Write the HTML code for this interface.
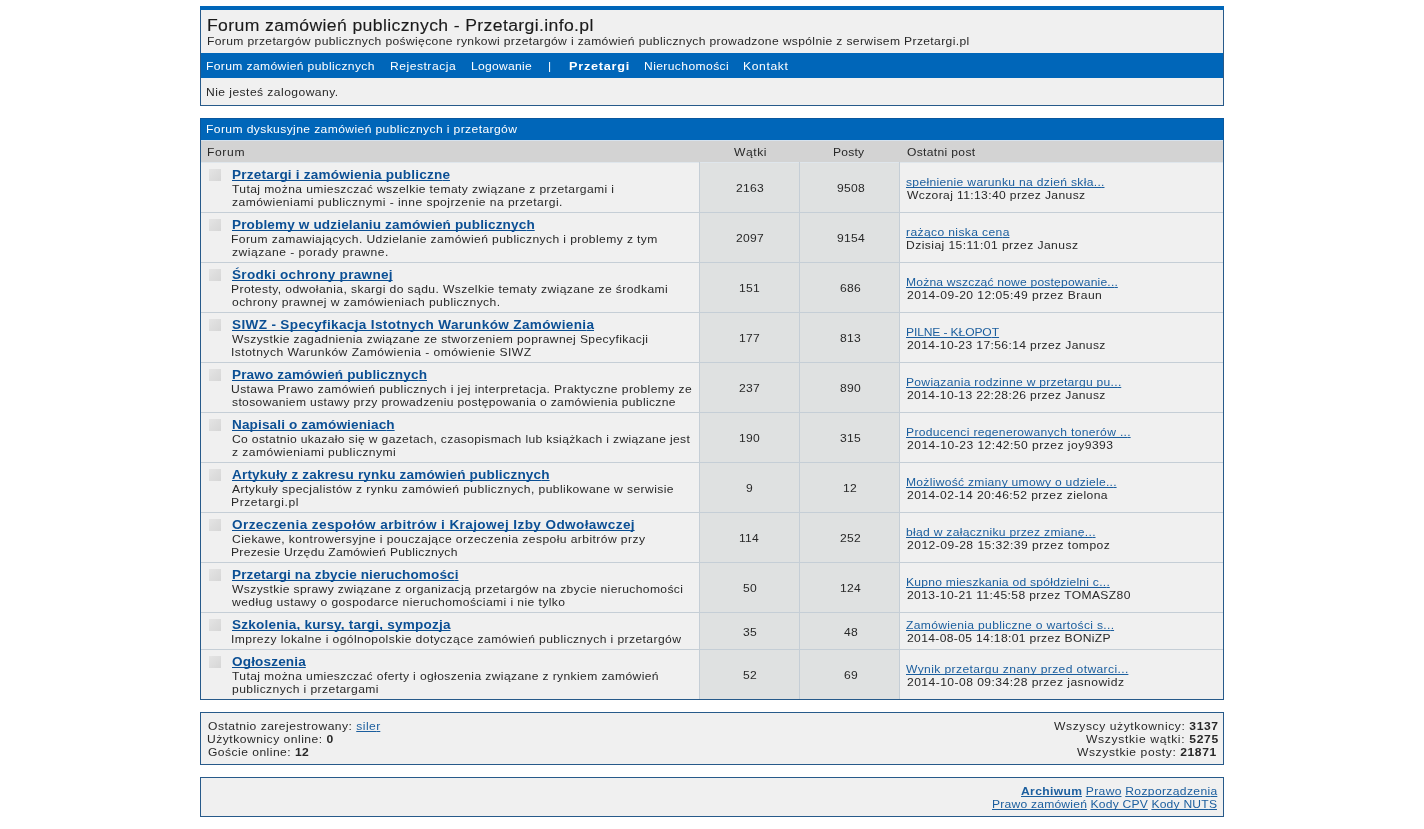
<!DOCTYPE html>
<html><head><meta charset="utf-8">
<style>
*{margin:0;padding:0}
html,body{width:1424px;height:829px;background:#fff;overflow:hidden}
body{position:relative;font-family:"Liberation Sans",sans-serif}
.r{position:absolute}
.t{position:absolute;white-space:nowrap;will-change:transform;text-decoration-skip-ink:none}
.t *{text-decoration-skip-ink:none}
b{font-weight:bold}
</style></head><body>
<div class="r" style="left:200px;top:6px;width:1024px;height:100px;background:#275a8a;"></div>
<div class="r" style="left:200px;top:6px;width:1024px;height:4px;background:#0066b9;"></div>
<div class="r" style="left:201px;top:10px;width:1022px;height:95px;background:#f0f0f0;"></div>
<div class="r" style="left:201px;top:53px;width:1022px;height:25px;background:#0066b9;"></div>
<div class="r" style="left:200px;top:118px;width:1024px;height:582px;background:#275a8a;"></div>
<div class="r" style="left:200px;top:118px;width:1024px;height:22px;background:#0a589f;"></div>
<div class="r" style="left:201px;top:119px;width:1022px;height:21px;background:#0066b9;"></div>
<div class="r" style="left:201px;top:140px;width:1022px;height:1px;background:#d6e2ee;"></div>
<div class="r" style="left:201px;top:141px;width:1022px;height:21px;background:#d3d3d3;"></div>
<div class="r" style="left:201px;top:162px;width:1022px;height:1px;background:#dfe6ec;"></div>
<div class="r" style="left:201px;top:163px;width:1022px;height:49px;background:#f0f0f0;"></div>
<div class="r" style="left:699px;top:162px;width:1px;height:50px;background:#c5ced6;"></div>
<div class="r" style="left:700px;top:163px;width:99px;height:49px;background:#dfe1e1;"></div>
<div class="r" style="left:799px;top:162px;width:1px;height:50px;background:#c5ced6;"></div>
<div class="r" style="left:800px;top:163px;width:99px;height:49px;background:#dfe1e1;"></div>
<div class="r" style="left:899px;top:162px;width:1px;height:50px;background:#c5ced6;"></div>
<div class="r" style="left:209px;top:169px;width:12px;height:12px;background:linear-gradient(135deg,#e4e4e4,#d6d6d6);"></div>
<div class="r" style="left:201px;top:212px;width:1022px;height:1px;background:#c5ced6;"></div>
<div class="r" style="left:201px;top:213px;width:1022px;height:49px;background:#f0f0f0;"></div>
<div class="r" style="left:699px;top:212px;width:1px;height:50px;background:#c5ced6;"></div>
<div class="r" style="left:700px;top:213px;width:99px;height:49px;background:#dfe1e1;"></div>
<div class="r" style="left:799px;top:212px;width:1px;height:50px;background:#c5ced6;"></div>
<div class="r" style="left:800px;top:213px;width:99px;height:49px;background:#dfe1e1;"></div>
<div class="r" style="left:899px;top:212px;width:1px;height:50px;background:#c5ced6;"></div>
<div class="r" style="left:209px;top:219px;width:12px;height:12px;background:linear-gradient(135deg,#e4e4e4,#d6d6d6);"></div>
<div class="r" style="left:201px;top:262px;width:1022px;height:1px;background:#c5ced6;"></div>
<div class="r" style="left:201px;top:263px;width:1022px;height:49px;background:#f0f0f0;"></div>
<div class="r" style="left:699px;top:262px;width:1px;height:50px;background:#c5ced6;"></div>
<div class="r" style="left:700px;top:263px;width:99px;height:49px;background:#dfe1e1;"></div>
<div class="r" style="left:799px;top:262px;width:1px;height:50px;background:#c5ced6;"></div>
<div class="r" style="left:800px;top:263px;width:99px;height:49px;background:#dfe1e1;"></div>
<div class="r" style="left:899px;top:262px;width:1px;height:50px;background:#c5ced6;"></div>
<div class="r" style="left:209px;top:269px;width:12px;height:12px;background:linear-gradient(135deg,#e4e4e4,#d6d6d6);"></div>
<div class="r" style="left:201px;top:312px;width:1022px;height:1px;background:#c5ced6;"></div>
<div class="r" style="left:201px;top:313px;width:1022px;height:49px;background:#f0f0f0;"></div>
<div class="r" style="left:699px;top:312px;width:1px;height:50px;background:#c5ced6;"></div>
<div class="r" style="left:700px;top:313px;width:99px;height:49px;background:#dfe1e1;"></div>
<div class="r" style="left:799px;top:312px;width:1px;height:50px;background:#c5ced6;"></div>
<div class="r" style="left:800px;top:313px;width:99px;height:49px;background:#dfe1e1;"></div>
<div class="r" style="left:899px;top:312px;width:1px;height:50px;background:#c5ced6;"></div>
<div class="r" style="left:209px;top:319px;width:12px;height:12px;background:linear-gradient(135deg,#e4e4e4,#d6d6d6);"></div>
<div class="r" style="left:201px;top:362px;width:1022px;height:1px;background:#c5ced6;"></div>
<div class="r" style="left:201px;top:363px;width:1022px;height:49px;background:#f0f0f0;"></div>
<div class="r" style="left:699px;top:362px;width:1px;height:50px;background:#c5ced6;"></div>
<div class="r" style="left:700px;top:363px;width:99px;height:49px;background:#dfe1e1;"></div>
<div class="r" style="left:799px;top:362px;width:1px;height:50px;background:#c5ced6;"></div>
<div class="r" style="left:800px;top:363px;width:99px;height:49px;background:#dfe1e1;"></div>
<div class="r" style="left:899px;top:362px;width:1px;height:50px;background:#c5ced6;"></div>
<div class="r" style="left:209px;top:369px;width:12px;height:12px;background:linear-gradient(135deg,#e4e4e4,#d6d6d6);"></div>
<div class="r" style="left:201px;top:412px;width:1022px;height:1px;background:#c5ced6;"></div>
<div class="r" style="left:201px;top:413px;width:1022px;height:49px;background:#f0f0f0;"></div>
<div class="r" style="left:699px;top:412px;width:1px;height:50px;background:#c5ced6;"></div>
<div class="r" style="left:700px;top:413px;width:99px;height:49px;background:#dfe1e1;"></div>
<div class="r" style="left:799px;top:412px;width:1px;height:50px;background:#c5ced6;"></div>
<div class="r" style="left:800px;top:413px;width:99px;height:49px;background:#dfe1e1;"></div>
<div class="r" style="left:899px;top:412px;width:1px;height:50px;background:#c5ced6;"></div>
<div class="r" style="left:209px;top:419px;width:12px;height:12px;background:linear-gradient(135deg,#e4e4e4,#d6d6d6);"></div>
<div class="r" style="left:201px;top:462px;width:1022px;height:1px;background:#c5ced6;"></div>
<div class="r" style="left:201px;top:463px;width:1022px;height:49px;background:#f0f0f0;"></div>
<div class="r" style="left:699px;top:462px;width:1px;height:50px;background:#c5ced6;"></div>
<div class="r" style="left:700px;top:463px;width:99px;height:49px;background:#dfe1e1;"></div>
<div class="r" style="left:799px;top:462px;width:1px;height:50px;background:#c5ced6;"></div>
<div class="r" style="left:800px;top:463px;width:99px;height:49px;background:#dfe1e1;"></div>
<div class="r" style="left:899px;top:462px;width:1px;height:50px;background:#c5ced6;"></div>
<div class="r" style="left:209px;top:469px;width:12px;height:12px;background:linear-gradient(135deg,#e4e4e4,#d6d6d6);"></div>
<div class="r" style="left:201px;top:512px;width:1022px;height:1px;background:#c5ced6;"></div>
<div class="r" style="left:201px;top:513px;width:1022px;height:49px;background:#f0f0f0;"></div>
<div class="r" style="left:699px;top:512px;width:1px;height:50px;background:#c5ced6;"></div>
<div class="r" style="left:700px;top:513px;width:99px;height:49px;background:#dfe1e1;"></div>
<div class="r" style="left:799px;top:512px;width:1px;height:50px;background:#c5ced6;"></div>
<div class="r" style="left:800px;top:513px;width:99px;height:49px;background:#dfe1e1;"></div>
<div class="r" style="left:899px;top:512px;width:1px;height:50px;background:#c5ced6;"></div>
<div class="r" style="left:209px;top:519px;width:12px;height:12px;background:linear-gradient(135deg,#e4e4e4,#d6d6d6);"></div>
<div class="r" style="left:201px;top:562px;width:1022px;height:1px;background:#c5ced6;"></div>
<div class="r" style="left:201px;top:563px;width:1022px;height:49px;background:#f0f0f0;"></div>
<div class="r" style="left:699px;top:562px;width:1px;height:50px;background:#c5ced6;"></div>
<div class="r" style="left:700px;top:563px;width:99px;height:49px;background:#dfe1e1;"></div>
<div class="r" style="left:799px;top:562px;width:1px;height:50px;background:#c5ced6;"></div>
<div class="r" style="left:800px;top:563px;width:99px;height:49px;background:#dfe1e1;"></div>
<div class="r" style="left:899px;top:562px;width:1px;height:50px;background:#c5ced6;"></div>
<div class="r" style="left:209px;top:569px;width:12px;height:12px;background:linear-gradient(135deg,#e4e4e4,#d6d6d6);"></div>
<div class="r" style="left:201px;top:612px;width:1022px;height:1px;background:#c5ced6;"></div>
<div class="r" style="left:201px;top:613px;width:1022px;height:36px;background:#f0f0f0;"></div>
<div class="r" style="left:699px;top:612px;width:1px;height:37px;background:#c5ced6;"></div>
<div class="r" style="left:700px;top:613px;width:99px;height:36px;background:#dfe1e1;"></div>
<div class="r" style="left:799px;top:612px;width:1px;height:37px;background:#c5ced6;"></div>
<div class="r" style="left:800px;top:613px;width:99px;height:36px;background:#dfe1e1;"></div>
<div class="r" style="left:899px;top:612px;width:1px;height:37px;background:#c5ced6;"></div>
<div class="r" style="left:209px;top:619px;width:12px;height:12px;background:linear-gradient(135deg,#e4e4e4,#d6d6d6);"></div>
<div class="r" style="left:201px;top:649px;width:1022px;height:1px;background:#c5ced6;"></div>
<div class="r" style="left:201px;top:650px;width:1022px;height:49px;background:#f0f0f0;"></div>
<div class="r" style="left:699px;top:649px;width:1px;height:50px;background:#c5ced6;"></div>
<div class="r" style="left:700px;top:650px;width:99px;height:49px;background:#dfe1e1;"></div>
<div class="r" style="left:799px;top:649px;width:1px;height:50px;background:#c5ced6;"></div>
<div class="r" style="left:800px;top:650px;width:99px;height:49px;background:#dfe1e1;"></div>
<div class="r" style="left:899px;top:649px;width:1px;height:50px;background:#c5ced6;"></div>
<div class="r" style="left:209px;top:656px;width:12px;height:12px;background:linear-gradient(135deg,#e4e4e4,#d6d6d6);"></div>
<div class="r" style="left:200px;top:712px;width:1024px;height:53px;background:#275a8a;"></div>
<div class="r" style="left:201px;top:713px;width:1022px;height:51px;background:#f0f0f0;"></div>
<div class="r" style="left:200px;top:777px;width:1024px;height:40px;background:#275a8a;"></div>
<div class="r" style="left:201px;top:778px;width:1022px;height:38px;background:#f0f0f0;"></div>
<div class="t" style="left:206.9px;top:17px;font-size:16px;line-height:18px;font-weight:normal;color:#1a1a1a;letter-spacing:0.337px;-webkit-text-stroke:0.12px #1a1a1a;transform:scaleX(1.1);transform-origin:0 0;">Forum zamówień publicznych - Przetargi.info.pl</div>
<div class="t" style="left:206.9px;top:35px;font-size:11px;line-height:13px;font-weight:normal;color:#282828;letter-spacing:0.322px;transform:scaleX(1.1);transform-origin:0 0;">Forum przetargów publicznych poświęcone rynkowi przetargów i zamówień publicznych prowadzone wspólnie z serwisem Przetargi.pl</div>
<div class="t" style="left:205.9px;top:60px;font-size:11px;line-height:13px;font-weight:normal;color:#fff;letter-spacing:0.331px;transform:scaleX(1.1);transform-origin:0 0;">Forum zamówień publicznych</div>
<div class="t" style="left:389.5px;top:60px;font-size:11px;line-height:13px;font-weight:normal;color:#fff;letter-spacing:0.464px;transform:scaleX(1.1);transform-origin:0 0;">Rejestracja</div>
<div class="t" style="left:470.5px;top:60px;font-size:11px;line-height:13px;font-weight:normal;color:#fff;letter-spacing:0.250px;transform:scaleX(1.1);transform-origin:0 0;">Logowanie</div>
<div class="t" style="left:547.9px;top:60px;font-size:11px;line-height:13px;font-weight:normal;color:#fff;letter-spacing:0.773px;transform:scaleX(1.1);transform-origin:0 0;">|</div>
<div class="t" style="left:568.5px;top:60px;font-size:11px;line-height:13px;font-weight:bold;color:#fff;letter-spacing:0.663px;transform:scaleX(1.15);transform-origin:0 0;">Przetargi</div>
<div class="t" style="left:643.5px;top:60px;font-size:11px;line-height:13px;font-weight:normal;color:#fff;letter-spacing:0.356px;transform:scaleX(1.1);transform-origin:0 0;">Nieruchomości</div>
<div class="t" style="left:742.5px;top:60px;font-size:11px;line-height:13px;font-weight:normal;color:#fff;letter-spacing:0.591px;transform:scaleX(1.1);transform-origin:0 0;">Kontakt</div>
<div class="t" style="left:205.9px;top:86px;font-size:11px;line-height:13px;font-weight:normal;color:#282828;letter-spacing:0.403px;transform:scaleX(1.1);transform-origin:0 0;">Nie jesteś zalogowany.</div>
<div class="t" style="left:205.6px;top:123px;font-size:11px;line-height:13px;font-weight:normal;color:#fff;letter-spacing:0.354px;transform:scaleX(1.1);transform-origin:0 0;">Forum dyskusyjne zamówień publicznych i przetargów</div>
<div class="t" style="left:206.6px;top:146px;font-size:11px;line-height:13px;font-weight:normal;color:#282828;letter-spacing:0.568px;transform:scaleX(1.1);transform-origin:0 0;">Forum</div>
<div class="t" style="left:733.9px;top:146px;font-size:11px;line-height:13px;font-weight:normal;color:#282828;letter-spacing:0.500px;transform:scaleX(1.1);transform-origin:0 0;">Wątki</div>
<div class="t" style="left:833.3px;top:146px;font-size:11px;line-height:13px;font-weight:normal;color:#282828;letter-spacing:0.182px;transform:scaleX(1.1);transform-origin:0 0;">Posty</div>
<div class="t" style="left:906.5px;top:146px;font-size:11px;line-height:13px;font-weight:normal;color:#282828;letter-spacing:0.298px;transform:scaleX(1.1);transform-origin:0 0;">Ostatni post</div>
<div class="t" style="left:232.0px;top:168px;font-size:12px;line-height:15px;font-weight:bold;color:#0b4f94;letter-spacing:0.177px;text-decoration:underline;transform:scaleX(1.13);transform-origin:0 0;">Przetargi i zamówienia publiczn<span style="letter-spacing:0">e</span></div>
<div class="t" style="left:232.0px;top:183px;font-size:11px;line-height:13px;font-weight:normal;color:#282828;letter-spacing:0.353px;transform:scaleX(1.1);transform-origin:0 0;">Tutaj można umieszczać wszelkie tematy związane z przetargami i</div>
<div class="t" style="left:232.0px;top:196px;font-size:11px;line-height:13px;font-weight:normal;color:#282828;letter-spacing:0.403px;transform:scaleX(1.1);transform-origin:0 0;">zamówieniami publicznymi - inne spojrzenie na przetargi.</div>
<div class="t" style="left:735.9px;top:182px;font-size:11px;line-height:13px;font-weight:normal;color:#282828;letter-spacing:0.247px;transform:scaleX(1.1);transform-origin:0 0;">2163</div>
<div class="t" style="left:836.7px;top:182px;font-size:11px;line-height:13px;font-weight:normal;color:#282828;letter-spacing:0.247px;transform:scaleX(1.1);transform-origin:0 0;">9508</div>
<div class="t" style="left:906.0px;top:176px;font-size:11px;line-height:13px;font-weight:normal;color:#1b5e9e;letter-spacing:0.289px;text-decoration:underline;transform:scaleX(1.1);transform-origin:0 0;">spełnienie warunku na dzień skła..<span style="letter-spacing:0">.</span></div>
<div class="t" style="left:907.0px;top:189px;font-size:11px;line-height:13px;font-weight:normal;color:#282828;letter-spacing:0.331px;transform:scaleX(1.1);transform-origin:0 0;">Wczoraj 11:13:40 przez Janusz</div>
<div class="t" style="left:232.0px;top:218px;font-size:12px;line-height:15px;font-weight:bold;color:#0b4f94;letter-spacing:0.126px;text-decoration:underline;transform:scaleX(1.13);transform-origin:0 0;">Problemy w udzielaniu zamówień publicznyc<span style="letter-spacing:0">h</span></div>
<div class="t" style="left:230.9px;top:233px;font-size:11px;line-height:13px;font-weight:normal;color:#282828;letter-spacing:0.360px;transform:scaleX(1.1);transform-origin:0 0;">Forum zamawiających. Udzielanie zamówień publicznych i problemy z tym</div>
<div class="t" style="left:232.0px;top:246px;font-size:11px;line-height:13px;font-weight:normal;color:#282828;letter-spacing:0.447px;transform:scaleX(1.1);transform-origin:0 0;">związane - porady prawne.</div>
<div class="t" style="left:735.9px;top:232px;font-size:11px;line-height:13px;font-weight:normal;color:#282828;letter-spacing:0.247px;transform:scaleX(1.1);transform-origin:0 0;">2097</div>
<div class="t" style="left:836.7px;top:232px;font-size:11px;line-height:13px;font-weight:normal;color:#282828;letter-spacing:0.247px;transform:scaleX(1.1);transform-origin:0 0;">9154</div>
<div class="t" style="left:906.0px;top:226px;font-size:11px;line-height:13px;font-weight:normal;color:#1b5e9e;letter-spacing:0.335px;text-decoration:underline;transform:scaleX(1.1);transform-origin:0 0;">rażąco niska cen<span style="letter-spacing:0">a</span></div>
<div class="t" style="left:905.9px;top:239px;font-size:11px;line-height:13px;font-weight:normal;color:#282828;letter-spacing:0.393px;transform:scaleX(1.1);transform-origin:0 0;">Dzisiaj 15:11:01 przez Janusz</div>
<div class="t" style="left:232.0px;top:268px;font-size:12px;line-height:15px;font-weight:bold;color:#0b4f94;letter-spacing:0.259px;text-decoration:underline;transform:scaleX(1.13);transform-origin:0 0;">Środki ochrony prawne<span style="letter-spacing:0">j</span></div>
<div class="t" style="left:230.9px;top:283px;font-size:11px;line-height:13px;font-weight:normal;color:#282828;letter-spacing:0.372px;transform:scaleX(1.1);transform-origin:0 0;">Protesty, odwołania, skargi do sądu. Wszelkie tematy związane ze środkami</div>
<div class="t" style="left:232.0px;top:296px;font-size:11px;line-height:13px;font-weight:normal;color:#282828;letter-spacing:0.372px;transform:scaleX(1.1);transform-origin:0 0;">ochrony prawnej w zamówieniach publicznych.</div>
<div class="t" style="left:738.8px;top:282px;font-size:11px;line-height:13px;font-weight:normal;color:#282828;letter-spacing:0.247px;transform:scaleX(1.1);transform-origin:0 0;">151</div>
<div class="t" style="left:840.2px;top:282px;font-size:11px;line-height:13px;font-weight:normal;color:#282828;letter-spacing:0.247px;transform:scaleX(1.1);transform-origin:0 0;">686</div>
<div class="t" style="left:906.0px;top:276px;font-size:11px;line-height:13px;font-weight:normal;color:#1b5e9e;letter-spacing:0.165px;text-decoration:underline;transform:scaleX(1.1);transform-origin:0 0;">Można wszcząć nowe postępowanie..<span style="letter-spacing:0">.</span></div>
<div class="t" style="left:907.0px;top:289px;font-size:11px;line-height:13px;font-weight:normal;color:#282828;letter-spacing:0.421px;transform:scaleX(1.1);transform-origin:0 0;">2014-09-20 12:05:49 przez Braun</div>
<div class="t" style="left:232.0px;top:318px;font-size:12px;line-height:15px;font-weight:bold;color:#0b4f94;letter-spacing:0.307px;text-decoration:underline;transform:scaleX(1.13);transform-origin:0 0;">SIWZ - Specyfikacja Istotnych Warunków Zamówieni<span style="letter-spacing:0">a</span></div>
<div class="t" style="left:232.0px;top:333px;font-size:11px;line-height:13px;font-weight:normal;color:#282828;letter-spacing:0.342px;transform:scaleX(1.1);transform-origin:0 0;">Wszystkie zagadnienia związane ze stworzeniem poprawnej Specyfikacji</div>
<div class="t" style="left:230.9px;top:346px;font-size:11px;line-height:13px;font-weight:normal;color:#282828;letter-spacing:0.420px;transform:scaleX(1.1);transform-origin:0 0;">Istotnych Warunków Zamówienia - omówienie SIWZ</div>
<div class="t" style="left:738.8px;top:332px;font-size:11px;line-height:13px;font-weight:normal;color:#282828;letter-spacing:0.247px;transform:scaleX(1.1);transform-origin:0 0;">177</div>
<div class="t" style="left:840.2px;top:332px;font-size:11px;line-height:13px;font-weight:normal;color:#282828;letter-spacing:0.247px;transform:scaleX(1.1);transform-origin:0 0;">813</div>
<div class="t" style="left:906.0px;top:326px;font-size:11px;line-height:13px;font-weight:normal;color:#1b5e9e;letter-spacing:-0.126px;text-decoration:underline;transform:scaleX(1.1);transform-origin:0 0;">PILNE - KŁOPO<span style="letter-spacing:0">T</span></div>
<div class="t" style="left:907.0px;top:339px;font-size:11px;line-height:13px;font-weight:normal;color:#282828;letter-spacing:0.334px;transform:scaleX(1.1);transform-origin:0 0;">2014-10-23 17:56:14 przez Janusz</div>
<div class="t" style="left:232.0px;top:368px;font-size:12px;line-height:15px;font-weight:bold;color:#0b4f94;letter-spacing:0.125px;text-decoration:underline;transform:scaleX(1.13);transform-origin:0 0;">Prawo zamówień publicznyc<span style="letter-spacing:0">h</span></div>
<div class="t" style="left:230.9px;top:383px;font-size:11px;line-height:13px;font-weight:normal;color:#282828;letter-spacing:0.371px;transform:scaleX(1.1);transform-origin:0 0;">Ustawa Prawo zamówień publicznych i jej interpretacja. Praktyczne problemy ze</div>
<div class="t" style="left:232.0px;top:396px;font-size:11px;line-height:13px;font-weight:normal;color:#282828;letter-spacing:0.310px;transform:scaleX(1.1);transform-origin:0 0;">stosowaniem ustawy przy prowadzeniu postępowania o zamówienia publiczne</div>
<div class="t" style="left:739.4px;top:382px;font-size:11px;line-height:13px;font-weight:normal;color:#282828;letter-spacing:0.247px;transform:scaleX(1.1);transform-origin:0 0;">237</div>
<div class="t" style="left:840.2px;top:382px;font-size:11px;line-height:13px;font-weight:normal;color:#282828;letter-spacing:0.247px;transform:scaleX(1.1);transform-origin:0 0;">890</div>
<div class="t" style="left:906.0px;top:376px;font-size:11px;line-height:13px;font-weight:normal;color:#1b5e9e;letter-spacing:0.255px;text-decoration:underline;transform:scaleX(1.1);transform-origin:0 0;">Powiązania rodzinne w przetargu pu..<span style="letter-spacing:0">.</span></div>
<div class="t" style="left:907.0px;top:389px;font-size:11px;line-height:13px;font-weight:normal;color:#282828;letter-spacing:0.334px;transform:scaleX(1.1);transform-origin:0 0;">2014-10-13 22:28:26 przez Janusz</div>
<div class="t" style="left:232.0px;top:418px;font-size:12px;line-height:15px;font-weight:bold;color:#0b4f94;letter-spacing:0.115px;text-decoration:underline;transform:scaleX(1.13);transform-origin:0 0;">Napisali o zamówieniac<span style="letter-spacing:0">h</span></div>
<div class="t" style="left:232.0px;top:433px;font-size:11px;line-height:13px;font-weight:normal;color:#282828;letter-spacing:0.315px;transform:scaleX(1.1);transform-origin:0 0;">Co ostatnio ukazało się w gazetach, czasopismach lub książkach i związane jest</div>
<div class="t" style="left:232.0px;top:446px;font-size:11px;line-height:13px;font-weight:normal;color:#282828;letter-spacing:0.404px;transform:scaleX(1.1);transform-origin:0 0;">z zamówieniami publicznymi</div>
<div class="t" style="left:738.8px;top:432px;font-size:11px;line-height:13px;font-weight:normal;color:#282828;letter-spacing:0.247px;transform:scaleX(1.1);transform-origin:0 0;">190</div>
<div class="t" style="left:840.2px;top:432px;font-size:11px;line-height:13px;font-weight:normal;color:#282828;letter-spacing:0.247px;transform:scaleX(1.1);transform-origin:0 0;">315</div>
<div class="t" style="left:906.0px;top:426px;font-size:11px;line-height:13px;font-weight:normal;color:#1b5e9e;letter-spacing:0.288px;text-decoration:underline;transform:scaleX(1.1);transform-origin:0 0;">Producenci regenerowanych tonerów ..<span style="letter-spacing:0">.</span></div>
<div class="t" style="left:907.0px;top:439px;font-size:11px;line-height:13px;font-weight:normal;color:#282828;letter-spacing:0.426px;transform:scaleX(1.1);transform-origin:0 0;">2014-10-23 12:42:50 przez joy9393</div>
<div class="t" style="left:232.0px;top:468px;font-size:12px;line-height:15px;font-weight:bold;color:#0b4f94;letter-spacing:0.142px;text-decoration:underline;transform:scaleX(1.13);transform-origin:0 0;">Artykuły z zakresu rynku zamówień publicznyc<span style="letter-spacing:0">h</span></div>
<div class="t" style="left:232.0px;top:483px;font-size:11px;line-height:13px;font-weight:normal;color:#282828;letter-spacing:0.374px;transform:scaleX(1.1);transform-origin:0 0;">Artykuły specjalistów z rynku zamówień publicznych, publikowane w serwisie</div>
<div class="t" style="left:230.9px;top:496px;font-size:11px;line-height:13px;font-weight:normal;color:#282828;letter-spacing:0.521px;transform:scaleX(1.1);transform-origin:0 0;">Przetargi.pl</div>
<div class="t" style="left:746.2px;top:482px;font-size:11px;line-height:13px;font-weight:normal;color:#282828;letter-spacing:0.247px;transform:scaleX(1.1);transform-origin:0 0;">9</div>
<div class="t" style="left:843.1px;top:482px;font-size:11px;line-height:13px;font-weight:normal;color:#282828;letter-spacing:0.247px;transform:scaleX(1.1);transform-origin:0 0;">12</div>
<div class="t" style="left:906.0px;top:476px;font-size:11px;line-height:13px;font-weight:normal;color:#1b5e9e;letter-spacing:0.254px;text-decoration:underline;transform:scaleX(1.1);transform-origin:0 0;">Możliwość zmiany umowy o udziele..<span style="letter-spacing:0">.</span></div>
<div class="t" style="left:907.0px;top:489px;font-size:11px;line-height:13px;font-weight:normal;color:#282828;letter-spacing:0.386px;transform:scaleX(1.1);transform-origin:0 0;">2014-02-14 20:46:52 przez zielona</div>
<div class="t" style="left:232.0px;top:518px;font-size:12px;line-height:15px;font-weight:bold;color:#0b4f94;letter-spacing:0.355px;text-decoration:underline;transform:scaleX(1.13);transform-origin:0 0;">Orzeczenia zespołów arbitrów i Krajowej Izby Odwoławcze<span style="letter-spacing:0">j</span></div>
<div class="t" style="left:232.0px;top:533px;font-size:11px;line-height:13px;font-weight:normal;color:#282828;letter-spacing:0.378px;transform:scaleX(1.1);transform-origin:0 0;">Ciekawe, kontrowersyjne i pouczające orzeczenia zespołu arbitrów przy</div>
<div class="t" style="left:230.9px;top:546px;font-size:11px;line-height:13px;font-weight:normal;color:#282828;letter-spacing:0.255px;transform:scaleX(1.1);transform-origin:0 0;">Prezesie Urzędu Zamówień Publicznych</div>
<div class="t" style="left:738.8px;top:532px;font-size:11px;line-height:13px;font-weight:normal;color:#282828;letter-spacing:0.247px;transform:scaleX(1.1);transform-origin:0 0;">114</div>
<div class="t" style="left:840.2px;top:532px;font-size:11px;line-height:13px;font-weight:normal;color:#282828;letter-spacing:0.247px;transform:scaleX(1.1);transform-origin:0 0;">252</div>
<div class="t" style="left:906.0px;top:526px;font-size:11px;line-height:13px;font-weight:normal;color:#1b5e9e;letter-spacing:0.264px;text-decoration:underline;transform:scaleX(1.1);transform-origin:0 0;">błąd w załączniku przez zmianę..<span style="letter-spacing:0">.</span></div>
<div class="t" style="left:907.0px;top:539px;font-size:11px;line-height:13px;font-weight:normal;color:#282828;letter-spacing:0.425px;transform:scaleX(1.1);transform-origin:0 0;">2012-09-28 15:32:39 przez tompoz</div>
<div class="t" style="left:232.0px;top:568px;font-size:12px;line-height:15px;font-weight:bold;color:#0b4f94;letter-spacing:0.094px;text-decoration:underline;transform:scaleX(1.13);transform-origin:0 0;">Przetargi na zbycie nieruchomośc<span style="letter-spacing:0">i</span></div>
<div class="t" style="left:232.0px;top:583px;font-size:11px;line-height:13px;font-weight:normal;color:#282828;letter-spacing:0.340px;transform:scaleX(1.1);transform-origin:0 0;">Wszystkie sprawy związane z organizacją przetargów na zbycie nieruchomości</div>
<div class="t" style="left:232.0px;top:596px;font-size:11px;line-height:13px;font-weight:normal;color:#282828;letter-spacing:0.375px;transform:scaleX(1.1);transform-origin:0 0;">według ustawy o gospodarce nieruchomościami i nie tylko</div>
<div class="t" style="left:742.8px;top:582px;font-size:11px;line-height:13px;font-weight:normal;color:#282828;letter-spacing:0.247px;transform:scaleX(1.1);transform-origin:0 0;">50</div>
<div class="t" style="left:839.6px;top:582px;font-size:11px;line-height:13px;font-weight:normal;color:#282828;letter-spacing:0.247px;transform:scaleX(1.1);transform-origin:0 0;">124</div>
<div class="t" style="left:906.0px;top:576px;font-size:11px;line-height:13px;font-weight:normal;color:#1b5e9e;letter-spacing:0.226px;text-decoration:underline;transform:scaleX(1.1);transform-origin:0 0;">Kupno mieszkania od spółdzielni c..<span style="letter-spacing:0">.</span></div>
<div class="t" style="left:907.0px;top:589px;font-size:11px;line-height:13px;font-weight:normal;color:#282828;letter-spacing:0.336px;transform:scaleX(1.1);transform-origin:0 0;">2013-10-21 11:45:58 przez TOMASZ80</div>
<div class="t" style="left:232.0px;top:618px;font-size:12px;line-height:15px;font-weight:bold;color:#0b4f94;letter-spacing:0.193px;text-decoration:underline;transform:scaleX(1.13);transform-origin:0 0;">Szkolenia, kursy, targi, sympozj<span style="letter-spacing:0">a</span></div>
<div class="t" style="left:230.9px;top:633px;font-size:11px;line-height:13px;font-weight:normal;color:#282828;letter-spacing:0.372px;transform:scaleX(1.1);transform-origin:0 0;">Imprezy lokalne i ogólnopolskie dotyczące zamówień publicznych i przetargów</div>
<div class="t" style="left:742.8px;top:626px;font-size:11px;line-height:13px;font-weight:normal;color:#282828;letter-spacing:0.247px;transform:scaleX(1.1);transform-origin:0 0;">35</div>
<div class="t" style="left:843.6px;top:626px;font-size:11px;line-height:13px;font-weight:normal;color:#282828;letter-spacing:0.247px;transform:scaleX(1.1);transform-origin:0 0;">48</div>
<div class="t" style="left:906.0px;top:619px;font-size:11px;line-height:13px;font-weight:normal;color:#1b5e9e;letter-spacing:0.286px;text-decoration:underline;transform:scaleX(1.1);transform-origin:0 0;">Zamówienia publiczne o wartości s..<span style="letter-spacing:0">.</span></div>
<div class="t" style="left:907.0px;top:632px;font-size:11px;line-height:13px;font-weight:normal;color:#282828;letter-spacing:0.311px;transform:scaleX(1.1);transform-origin:0 0;">2014-08-05 14:18:01 przez BONiZP</div>
<div class="t" style="left:232.0px;top:655px;font-size:12px;line-height:15px;font-weight:bold;color:#0b4f94;letter-spacing:0.139px;text-decoration:underline;transform:scaleX(1.13);transform-origin:0 0;">Ogłoszeni<span style="letter-spacing:0">a</span></div>
<div class="t" style="left:232.0px;top:670px;font-size:11px;line-height:13px;font-weight:normal;color:#282828;letter-spacing:0.345px;transform:scaleX(1.1);transform-origin:0 0;">Tutaj można umieszczać oferty i ogłoszenia związane z rynkiem zamówień</div>
<div class="t" style="left:232.0px;top:683px;font-size:11px;line-height:13px;font-weight:normal;color:#282828;letter-spacing:0.379px;transform:scaleX(1.1);transform-origin:0 0;">publicznych i przetargami</div>
<div class="t" style="left:742.8px;top:669px;font-size:11px;line-height:13px;font-weight:normal;color:#282828;letter-spacing:0.247px;transform:scaleX(1.1);transform-origin:0 0;">52</div>
<div class="t" style="left:843.6px;top:669px;font-size:11px;line-height:13px;font-weight:normal;color:#282828;letter-spacing:0.247px;transform:scaleX(1.1);transform-origin:0 0;">69</div>
<div class="t" style="left:906.0px;top:663px;font-size:11px;line-height:13px;font-weight:normal;color:#1b5e9e;letter-spacing:0.344px;text-decoration:underline;transform:scaleX(1.1);transform-origin:0 0;">Wynik przetargu znany przed otwarci..<span style="letter-spacing:0">.</span></div>
<div class="t" style="left:907.0px;top:676px;font-size:11px;line-height:13px;font-weight:normal;color:#282828;letter-spacing:0.406px;transform:scaleX(1.1);transform-origin:0 0;">2014-10-08 09:34:28 przez jasnowidz</div>
<div class="t" style="left:207.7px;top:720px;font-size:11px;line-height:13px;font-weight:normal;color:#282828;letter-spacing:0.426px;transform:scaleX(1.1);transform-origin:0 0;">Ostatnio zarejestrowany: <span style="color:#1b5e9e;text-decoration:underline">sile<span style="letter-spacing:0">r</span></span></div>
<div class="t" style="left:206.6px;top:733px;font-size:11px;line-height:13px;font-weight:normal;color:#282828;letter-spacing:0.450px;transform:scaleX(1.1);transform-origin:0 0;">Użytkownicy online: <b>0</b></div>
<div class="t" style="left:207.7px;top:746px;font-size:11px;line-height:13px;font-weight:normal;color:#282828;letter-spacing:0.415px;transform:scaleX(1.1);transform-origin:0 0;">Goście online: <b>12</b></div>
<div class="t" style="left:1054.0px;top:720px;font-size:11px;line-height:13px;font-weight:normal;color:#282828;letter-spacing:0.534px;transform:scaleX(1.1);transform-origin:0 0;">Wszyscy użytkownicy: <b>3137</b></div>
<div class="t" style="left:1085.8px;top:733px;font-size:11px;line-height:13px;font-weight:normal;color:#282828;letter-spacing:0.595px;transform:scaleX(1.1);transform-origin:0 0;">Wszystkie wątki: <b>5275</b></div>
<div class="t" style="left:1077.0px;top:746px;font-size:11px;line-height:13px;font-weight:normal;color:#282828;letter-spacing:0.524px;transform:scaleX(1.1);transform-origin:0 0;">Wszystkie posty: <b>21871</b></div>
<div class="t" style="left:1020.7px;top:785px;font-size:11px;line-height:13px;font-weight:normal;color:#282828;letter-spacing:0.325px;transform:scaleX(1.1);transform-origin:0 0;"><span style="color:#1b5e9e;text-decoration:underline"><b>Archiwu<span style="letter-spacing:0">m</span></b></span> <span style="color:#1b5e9e;text-decoration:underline">Praw<span style="letter-spacing:0">o</span></span> <span style="color:#1b5e9e;text-decoration:underline">Rozporządzeni<span style="letter-spacing:0">a</span></span></div>
<div class="t" style="left:992.0px;top:798px;font-size:11px;line-height:13px;font-weight:normal;color:#282828;letter-spacing:0.193px;transform:scaleX(1.1);transform-origin:0 0;"><span style="color:#1b5e9e;text-decoration:underline">Prawo zamówie<span style="letter-spacing:0">ń</span></span> <span style="color:#1b5e9e;text-decoration:underline">Kody CP<span style="letter-spacing:0">V</span></span> <span style="color:#1b5e9e;text-decoration:underline">Kody NUT<span style="letter-spacing:0">S</span></span></div>
</body></html>
